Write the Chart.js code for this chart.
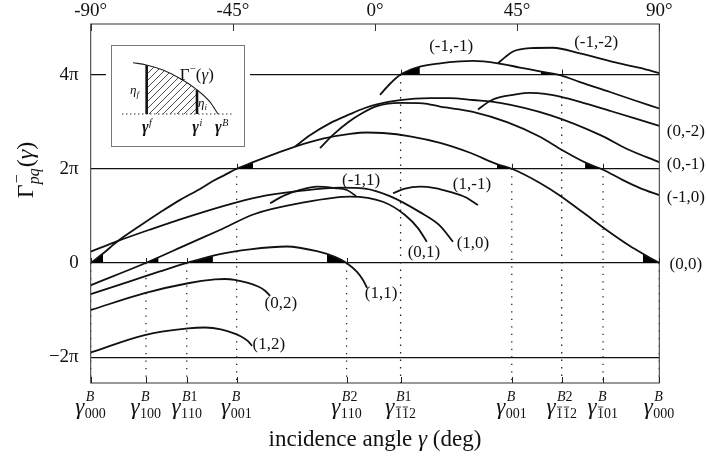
<!DOCTYPE html>
<html><head><meta charset="utf-8">
<script src="https://cdn.jsdelivr.net/npm/chart.js@4.4.1/dist/chart.umd.min.js"></script>
<style>
html,body{margin:0;padding:0;background:#fff;}
#wrap{position:relative;width:706px;height:461px;overflow:hidden;}
#main{position:absolute;left:0;top:0;}
#insetBox{position:absolute;left:111px;top:45px;width:132px;height:100px;border:1px solid #777;background:#fff;box-shadow:0 0 0 5px #fff;}
#inset{display:block;}
</style></head><body>
<div id="wrap">
<canvas id="main" width="706" height="461"></canvas>
<div id="insetBox"><canvas id="inset" width="132" height="100"></canvas></div>
</div>
<script>
// ---------------- data (x in degrees, y in units of pi) ----------------
const yLevels = [-2, 0, 2, 4];
const yLevelLabels = ['\u22122\u03c0', '0', '2\u03c0', '4\u03c0'];
const topAngles = [-90, -45, 0, 45, 90];
const topAngleLabels = ['-90\u00b0', '-45\u00b0', '0\u00b0', '45\u00b0', '90\u00b0'];

const braggAngles = [-90, -72.5, -59.6, -43.8, -9.0, 8.1, 43.3, 59.1, 72.2, 90];
const braggLevels = [0, 0, 0, 2, 0, 4, 2, 4, 2, 0];
const braggSup = ['B', 'B', 'B1', 'B', 'B2', 'B1', 'B', 'B2', 'B', 'B'];
const braggSub = ['000', '100', '110', '001', '110', '~1~12', '001', '~1~12', '~101', '000'];

const c00_x = [-90,-86.1,-81.7,-74.4,-68.1,-61.7,-55.4,-51.3,-47.5,-43.8,-38.6,-33.2,-25.3,-16.5,-7.9,-2.5,2.5,11.1,20.6,30.1,38.6,43.3,52.2,58.6,65.9,73.3,80.7,85.5,90];
const c00_y = [0,0.20,0.45,0.79,1.07,1.34,1.57,1.74,1.87,2.0,2.14,2.28,2.47,2.64,2.74,2.77,2.76,2.69,2.55,2.34,2.10,2.0,1.70,1.43,1.07,0.70,0.36,0.17,0];
const c10_x = [-90,-81.7,-71.2,-59.2,-47.5,-37.0,-23.7,-11.1,-3.2,4.7,14.2,20.6,24.7];
const c10_y = [0.24,0.46,0.71,0.98,1.22,1.40,1.53,1.60,1.58,1.42,1.08,0.79,0.45];
const c01_x = [-90,-72.6,-59.2,-49.1,-38.1,-23.7,-7.9,2.5,9.5,13.6,16.4];
const c01_y = [-0.47,0,0.40,0.70,1.04,1.27,1.41,1.30,1.02,0.74,0.45];
const c11_x = [-90,-77.6,-68.1,-59.6,-49.1,-39.6,-27.9,-18.4,-12.7,-9.0,-5.7,-3.8,-2.5];
const c11_y = [-0.66,-0.39,-0.18,0,0.19,0.29,0.35,0.25,0.13,0,-0.19,-0.36,-0.53];
const c02_x = [-90,-72.9,-59.2,-50.7,-47.5,-44.4,-37.0,-34.8,-33.2];
const c02_y = [-1.0,-0.64,-0.43,-0.35,-0.34,-0.36,-0.50,-0.59,-0.70];
const c12_x = [-90,-72.9,-59.2,-53.8,-48.8,-42.4,-40.2,-38.9];
const c12_y = [-1.90,-1.53,-1.39,-1.37,-1.41,-1.56,-1.66,-1.76];
const cm11_x = [-33.2,-28.5,-23.7,-18.4,-12.7,-8.9,-6.0];
const cm11_y = [1.27,1.44,1.55,1.62,1.59,1.55,1.42];
const c1m1_x = [5.7,9.5,14.2,19.0,23.7,28.5,32.6];
const c1m1_y = [1.48,1.58,1.62,1.59,1.51,1.40,1.23];
const c0m1_x = [-25.3,-20.6,-14.2,-7.9,-3.2,0.6,7.9,17.4,23.7,31.0,39.6,55.4,71.2,79.8,90];
const c0m1_y = [2.47,2.71,2.97,3.16,3.29,3.37,3.46,3.50,3.50,3.46,3.40,3.14,2.72,2.42,2.14];
const cm10_x = [-17.4,-13.3,-8.5,-4.1,0.6,7.9,15.2,20.6,31.0,41.8,52.2,59.2,67.0,72.2,78.5,83.9,90];
const cm10_y = [2.44,2.72,2.99,3.18,3.33,3.40,3.39,3.32,3.21,2.99,2.68,2.40,2.12,1.98,1.76,1.59,1.44];
const c0m2_x = [32.6,36.4,39.6,43.7,49.1,53.8,58.6,64.9,74.4,82.3,90];
const c0m2_y = [3.26,3.44,3.52,3.57,3.61,3.59,3.53,3.42,3.23,3.07,2.91];
const cm1m1_x = [1.6,4.7,8.1,11.1,14.2,20.6,26.9,31.0,38.9,45.9,52.2,59.1,64.9,74.4,82.3,90];
const cm1m1_y = [3.57,3.80,4.0,4.10,4.17,4.24,4.28,4.29,4.24,4.15,4.07,3.98,3.84,3.63,3.45,3.28];
const cm1m2_x = [38.9,41.2,43.7,49.1,56.3,64.9,75.3,83.9,90];
const cm1m2_y = [4.24,4.37,4.49,4.56,4.57,4.45,4.27,4.14,4.03];

// shaded wedges next to the crossing points: curve, from-angle, to-angle, level
const wedgeCurve = ['c00', 'c01', 'c11', 'c11', 'c00', 'cm1m1', 'cm1m1', 'c00', 'cm10', 'c00'];
const wedgeFrom = [-90, -72.6, -59.6, -15.2, -43.8, 8.1, 52.5, 38.6, 66.5, 84.8];
const wedgeTo = [-86.1, -68.5, -51.3, -9.0, -38.6, 14.2, 58.5, 43.3, 71.5, 90];
const wedgeLevel = [0, 0, 0, 0, 2, 4, 4, 2, 2, 0];

// curve labels
const curveLabelText = ['(-1,-1)','(-1,-2)','(0,-2)','(0,-1)','(-1,0)','(0,0)','(-1,1)','(1,-1)','(0,1)','(1,0)','(1,1)','(0,2)','(1,2)'];
const curveLabelX = [24.1, 70.0, 98.4, 98.4, 98.4, 98.4, -4.4, 30.7, 15.5, 31.0, 1.9, -29.8, -33.6];
const curveLabelY = [4.59, 4.67, 2.80, 2.10, 1.38, -0.04, 1.76, 1.66, 0.23, 0.42, -0.64, -0.87, -1.74];

// inset sketch
const insetU = [0, 0.157, 0.353, 0.549, 0.745, 0.902, 1];
const insetV = [1, 0.955, 0.857, 0.695, 0.48, 0.24, 0];
const insetGf = 0.161, insetGi = 0.753, insetGB = 1.0;

const Y_MIN = -2.548, Y_MAX = 5.074;

// ---------------- helpers ----------------
const SERIF = '"Liberation Serif", "Times New Roman", serif';
Chart.defaults.font.family = SERIF;
Chart.defaults.color = '#111';

const curves = {
  c00: [c00_x, c00_y], c10: [c10_x, c10_y], c01: [c01_x, c01_y], c11: [c11_x, c11_y],
  c02: [c02_x, c02_y], c12: [c12_x, c12_y], cm11: [cm11_x, cm11_y], c1m1: [c1m1_x, c1m1_y],
  c0m1: [c0m1_x, c0m1_y], cm10: [cm10_x, cm10_y], c0m2: [c0m2_x, c0m2_y],
  cm1m1: [cm1m1_x, cm1m1_y], cm1m2: [cm1m2_x, cm1m2_y]
};
function interp(xs, ys, x) {
  if (x <= xs[0]) return ys[0];
  for (let i = 1; i < xs.length; i++) {
    if (x <= xs[i]) { const t = (x - xs[i-1]) / (xs[i] - xs[i-1]); return ys[i-1] + t * (ys[i] - ys[i-1]); }
  }
  return ys[ys.length - 1];
}

const datasets = [];
Object.keys(curves).forEach(k => {
  const [xs, ys] = curves[k];
  datasets.push({ label: k, data: xs.map((x, i) => ({ x, y: ys[i] })), borderColor: '#111', borderWidth: 1.8,
    pointRadius: 0, cubicInterpolationMode: 'monotone', fill: false, order: 1 });
});
wedgeCurve.forEach((k, i) => {
  const [xs, ys] = curves[k];
  const pts = [];
  const n = 8;
  for (let j = 0; j <= n; j++) {
    const x = wedgeFrom[i] + (wedgeTo[i] - wedgeFrom[i]) * j / n;
    pts.push({ x, y: interp(xs, ys, x) });
  }
  datasets.push({ label: 'w' + i, data: pts, borderColor: 'rgba(0,0,0,0)', borderWidth: 0, backgroundColor: '#000',
    pointRadius: 0, fill: { value: wedgeLevel[i] }, order: 2 });
});
braggAngles.forEach((a, i) => {
  datasets.push({ label: 'd' + i, data: [{ x: a, y: braggLevels[i] }, { x: a, y: Y_MIN }], borderColor: '#222',
    borderWidth: 1.3, borderDash: [1.3, 6.2], pointRadius: 0, fill: false, order: 3 });
});

function drawGammaLabel(ctx, cx, base, sup, sub, gSize, sSize) {
  const fG = 'italic ' + gSize + 'px ' + SERIF;
  const fD = sSize + 'px ' + SERIF;
  const fL = 'italic ' + sSize + 'px ' + SERIF;
  ctx.font = fG; const wg = ctx.measureText('\u03b3').width;
  const clean = sub.replace(/~/g, '');
  ctx.font = fD; const ws = ctx.measureText(clean).width;
  let wsup = 0;
  for (const ch of sup) { ctx.font = /[A-Za-z]/.test(ch) ? fL : fD; wsup += ctx.measureText(ch).width; }
  const total = wg + 1 + Math.max(ws, wsup);
  const x0 = cx - total / 2;
  ctx.textAlign = 'left'; ctx.textBaseline = 'alphabetic';
  ctx.font = fG; ctx.fillText('\u03b3', x0, base);
  let xs = x0 + wg + 1.5;
  for (const ch of sup) { ctx.font = /[A-Za-z]/.test(ch) ? fL : fD; ctx.fillText(ch, xs, base - sSize * 0.9); xs += ctx.measureText(ch).width; }
  ctx.font = fD;
  let xx = x0 + wg + 0.5; let bar = false;
  for (const ch of sub) {
    if (ch === '~') { bar = true; continue; }
    const w = ctx.measureText(ch).width;
    ctx.fillText(ch, xx, base + sSize * 0.3);
    if (bar) { ctx.beginPath(); ctx.lineWidth = 0.8; ctx.moveTo(xx + 0.8, base + sSize * 0.3 - sSize * 0.8); ctx.lineTo(xx + w - 0.8, base + sSize * 0.3 - sSize * 0.8); ctx.stroke(); }
    xx += w; bar = false;
  }
}

const decor = {
  id: 'decor',
  afterDraw(chart) {
    const ctx = chart.ctx, a = chart.chartArea;
    const xs = chart.scales.x, ys = chart.scales.y;
    ctx.save();
    ctx.strokeStyle = '#333'; ctx.fillStyle = '#111'; ctx.lineWidth = 1;
    ctx.strokeRect(a.left, a.top, a.right - a.left, a.bottom - a.top);
    // top inner ticks
    topAngles.forEach(v => { const px = Math.round(xs.getPixelForValue(v)) + 0.5; ctx.beginPath(); ctx.moveTo(px, a.top); ctx.lineTo(px, a.top + 7); ctx.stroke(); });
    // bottom inner ticks + crossing ticks
    ctx.strokeStyle = '#222';
    braggAngles.forEach((v, i) => {
      const px = Math.round(xs.getPixelForValue(v)) + 0.5;
      ctx.beginPath(); ctx.moveTo(px, a.bottom); ctx.lineTo(px, a.bottom - 6); ctx.stroke();
      const py = ys.getPixelForValue(braggLevels[i]);
      ctx.beginPath(); ctx.moveTo(px, py); ctx.lineTo(px, py - 5); ctx.stroke();
    });
    // bottom labels
    ctx.fillStyle = '#111'; ctx.strokeStyle = '#111';
    braggAngles.forEach((v, i) => drawGammaLabel(ctx, xs.getPixelForValue(v), 414, braggSup[i], braggSub[i], 23, 14));
    // x title
    const t1 = 'incidence angle ', t2 = '\u03b3', t3 = ' (deg)';
    const fz = 23;
    ctx.font = fz + 'px ' + SERIF; const w1 = ctx.measureText(t1).width, w3 = ctx.measureText(t3).width;
    ctx.font = 'italic ' + fz + 'px ' + SERIF; const w2 = ctx.measureText(t2).width;
    let tx = (a.left + a.right) / 2 - (w1 + w2 + w3) / 2;
    ctx.textAlign = 'left'; ctx.textBaseline = 'alphabetic';
    ctx.font = fz + 'px ' + SERIF; ctx.fillText(t1, tx, 446); tx += w1;
    ctx.font = 'italic ' + fz + 'px ' + SERIF; ctx.fillText(t2, tx, 446); tx += w2;
    ctx.font = fz + 'px ' + SERIF; ctx.fillText(t3, tx, 446);
    // y title (rotated)
    ctx.save();
    ctx.translate(33, 170); ctx.rotate(-Math.PI / 2);
    const parts = [['\u0393', '24px ', 0], ['pq', 'italic 16px ', 6], ['(', '24px ', 0], ['\u03b3', 'italic 24px ', 0], [')', '24px ', 0]];
    let tw = 0; parts.forEach(p => { ctx.font = p[1] + SERIF; p.w = ctx.measureText(p[0]).width; tw += p.w + (p[0] === 'pq' ? 1 : 0); });
    let yx = -tw / 2;
    parts.forEach(p => {
      ctx.font = p[1] + SERIF; ctx.fillText(p[0], yx, p[2]);
      if (p[0] === 'pq') { ctx.font = '16px ' + SERIF; ctx.fillText('\u2212', yx + 1, -11); }
      yx += p.w + (p[0] === 'pq' ? 1 : 0);
    });
    ctx.restore();
    // curve labels
    ctx.font = '17px ' + SERIF; ctx.textAlign = 'center'; ctx.textBaseline = 'middle';
    curveLabelText.forEach((t, i) => ctx.fillText(t, xs.getPixelForValue(curveLabelX[i]), ys.getPixelForValue(curveLabelY[i])));
    ctx.restore();
  }
};

new Chart(document.getElementById('main'), {
  type: 'line',
  data: { datasets },
  options: {
    responsive: false, animation: false, events: [],
    layout: { padding: { left: 0, right: 46.7, top: 0, bottom: 78 } },
    plugins: { legend: { display: false }, tooltip: { enabled: false } },
    scales: {
      x: { type: 'linear', min: -90, max: 90, display: false },
      xTop: { type: 'linear', min: -90, max: 90, position: 'top',
        grid: { display: false, drawTicks: false }, border: { display: false },
        afterBuildTicks: s => { s.ticks = topAngles.map(v => ({ value: v })); },
        ticks: { callback: (v, i) => topAngleLabels[i], font: { size: 19 }, color: '#111', padding: 2, maxRotation: 0, autoSkip: false },
        afterFit: s => { s.height = 24; } },
      y: { type: 'linear', min: Y_MIN, max: Y_MAX,
        afterBuildTicks: s => { s.ticks = yLevels.map(v => ({ value: v })); },
        ticks: { callback: (v, i) => yLevelLabels[i], font: { size: 19 }, color: '#111', padding: 12, autoSkip: false },
        grid: { color: '#111', lineWidth: 1.2, drawTicks: false }, border: { display: false },
        afterFit: s => { s.width = 90.7; } }
    }
  },
  plugins: [decor]
});

// ---------------- inset ----------------
const hatch = document.createElement('canvas'); hatch.width = 7; hatch.height = 7;
(function () { const g = hatch.getContext('2d'); g.strokeStyle = '#222'; g.lineWidth = 0.8;
  g.beginPath(); g.moveTo(0, 7); g.lineTo(7, 0); g.moveTo(-1, 1); g.lineTo(1, -1); g.moveTo(6, 8); g.lineTo(8, 6); g.stroke(); })();
const ictx = document.getElementById('inset').getContext('2d');
const hatchPattern = ictx.createPattern(hatch, 'repeat');
const hatchPts = [];
for (let j = 0; j <= 12; j++) { const u = insetGf + (insetGi - insetGf) * j / 12; hatchPts.push({ x: u, y: interp(insetU, insetV, u) }); }
const insetDecor = {
  id: 'insetDecor',
  afterDraw(chart) {
    const ctx = chart.ctx, xs = chart.scales.x, ys = chart.scales.y;
    ctx.save(); ctx.fillStyle = '#111'; ctx.textBaseline = 'alphabetic'; ctx.textAlign = 'left';
    const X = v => xs.getPixelForValue(v), Y = v => ys.getPixelForValue(v);
    // Gamma^-(gamma)
    let x = X(0.55), y = Y(0.67);
    ctx.font = '17px ' + SERIF; ctx.fillText('\u0393', x, y); x += ctx.measureText('\u0393').width;
    ctx.font = '11px ' + SERIF; ctx.fillText('\u2212', x, y - 8); x += ctx.measureText('\u2212').width;
    ctx.font = '17px ' + SERIF; ctx.fillText('(', x, y); x += ctx.measureText('(').width;
    ctx.font = 'italic 17px ' + SERIF; ctx.fillText('\u03b3', x, y); x += ctx.measureText('\u03b3').width;
    ctx.font = '17px ' + SERIF; ctx.fillText(')', x, y);
    // eta labels
    const eta = (u, v, s) => { let xx = X(u), yy = Y(v); ctx.font = 'italic 13px ' + SERIF; ctx.fillText('\u03b7', xx, yy); xx += ctx.measureText('\u03b7').width; ctx.font = 'italic 9px ' + SERIF; ctx.fillText(s, xx, yy + 3); };
    eta(-0.035, 0.39, 'f'); eta(0.765, 0.14, 'i');
    // gamma labels under the axis
    const gl = (u, s) => { ctx.font = 'italic bold 16px ' + SERIF; const w = ctx.measureText('\u03b3').width; ctx.font = 'italic 10px ' + SERIF; const ws = ctx.measureText(s).width;
      let xx = X(u) - (w + ws) / 2; const yy = Y(-0.36); ctx.font = 'italic bold 16px ' + SERIF; ctx.fillText('\u03b3', xx, yy); ctx.font = 'italic 10px ' + SERIF; ctx.fillText(s, xx + w + 0.5, yy - 6); };
    gl(insetGf, 'f'); gl(insetGi, 'i'); gl(insetGB + 0.04, 'B');
    ctx.restore();
  }
};
new Chart(ictx, {
  type: 'line',
  data: { datasets: [
    { data: insetU.map((u, i) => ({ x: u, y: insetV[i] })), borderColor: '#222', borderWidth: 1.1, pointRadius: 0, cubicInterpolationMode: 'monotone', fill: false, order: 1 },
    { data: hatchPts, borderColor: 'rgba(0,0,0,0)', borderWidth: 0, backgroundColor: hatchPattern, pointRadius: 0, fill: { value: 0 }, order: 3 },
    { data: [{ x: insetGf, y: 0 }, { x: insetGf, y: interp(insetU, insetV, insetGf) }], borderColor: '#111', borderWidth: 2.6, pointRadius: 0, order: 1 },
    { data: [{ x: insetGi, y: 0 }, { x: insetGi, y: interp(insetU, insetV, insetGi) }], borderColor: '#111', borderWidth: 2.6, pointRadius: 0, order: 1 },
    { data: [{ x: -0.129, y: 0 }, { x: 1.188, y: 0 }], borderColor: '#333', borderWidth: 1, borderDash: [1.5, 2.5], pointRadius: 0, order: 2 }
  ] },
  options: {
    responsive: false, animation: false, events: [],
    layout: { padding: { left: 10, right: 10, top: 5, bottom: 30 } },
    plugins: { legend: { display: false }, tooltip: { enabled: false } },
    scales: { x: { type: 'linear', min: -0.129, max: 1.188, display: false }, y: { type: 'linear', min: -0.039, max: 1.228, display: false } }
  },
  plugins: [insetDecor]
});
</script>
</body></html>
